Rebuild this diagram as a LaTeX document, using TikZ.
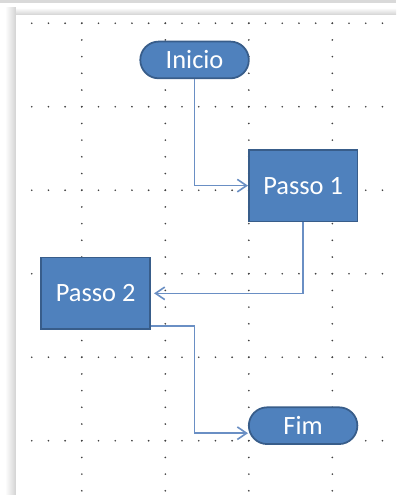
\documentclass[tikz,border=0pt]{standalone}
\usepackage{fontspec}
\setmainfont{Carlito}
\usetikzlibrary{arrows.meta}
\definecolor{boxblue}{HTML}{4F81BD}
\definecolor{boxedge}{HTML}{385D8A}
\definecolor{linkblue}{HTML}{6A8FC4}

\begin{document}
\begin{tikzpicture}[
    passo/.style={rectangle, draw=boxedge, fill=boxblue, line width=1.2pt,
      minimum width=2.6cm, minimum height=1.72cm, text=white,
      font=\fontsize{18}{20}\selectfont},
    terminal/.style={passo, minimum height=0.88cm, rounded corners=0.44cm},
    link/.style={draw=linkblue, line width=1.1pt,
      -{Straight Barb[length=2.2mm,width=3mm]}},
    dot/.style={fill=black!75}
  ]
      \useasboundingbox (-1.96,-1.3) rectangle (7.525,10.556);
      % Page and shadow
      \fill[white] (-1.96,-1.3) rectangle (7.525,10.556);
      \fill[gray!30] (-1.96,10.484) rectangle (7.525,10.556);
      \shade[top color=white, bottom color=gray!35] (-1.84,10.197) rectangle (7.525,10.37);
      \shade[left color=white, right color=gray!35] (-1.84,-1.3) rectangle (-1.577,10.37);
      \fill[white] (-1.577,-1.3) rectangle (7.525,10.197);
      % Grid: horizontal dotted lines
      \foreach \y in {0,2,...,10}
        \foreach \i in {-3,...,18}
          \fill[dot] ({0.4*\i},\y) circle (0.022);
      % Grid: vertical dotted lines
      \foreach \x in {0,2,4,6}
        \foreach \i in {-3,...,25}
          \fill[dot] (\x,{0.4*\i}) circle (0.022);
      % Steps
      \node[terminal] (inicio) at (2.7,9.12) {Inicio};
      \node[passo] (passo1) at (5.3,6.11) {Passo 1};
      \node[passo] (passo2) at (0.33,3.53) {Passo 2};
      \node[terminal] (fim) at (5.3,0.36) {Fim};
      \coordinate (fimin) at ([yshift=-0.18cm]fim.west);
      % Connectors
      \draw[link] (inicio.south) |- (passo1.west);
      \draw[link] (passo1.south) |- ([xshift=0.08cm]passo2.east);
      \draw[link] ([yshift=0.1cm]passo2.south east) -| (inicio.south |- fimin) -- (fimin);
    \end{tikzpicture}
\end{document}
